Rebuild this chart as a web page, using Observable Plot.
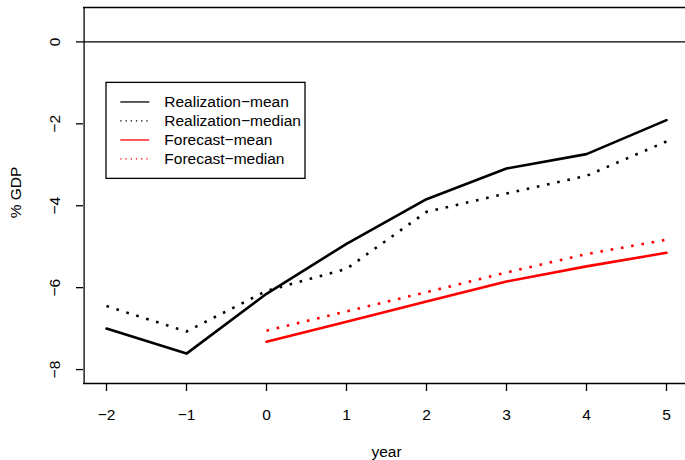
<!DOCTYPE html>
<html>
<head>
<meta charset="utf-8">
<script src="https://cdn.jsdelivr.net/npm/d3@7"></script>
<script src="https://cdn.jsdelivr.net/npm/@observablehq/plot@0.6"></script>
<style>
  html, body { margin: 0; padding: 0; background: white; overflow: hidden; }
  #chart { width: 685px; height: 460px; }
</style>
</head>
<body>
<div id="chart"></div>
<script>
// ---- data ----
const years = [-2, -1, 0, 1, 2, 3, 4, 5];
const realizationMean   = [-7.00, -7.61, -6.15, -4.93, -3.84, -3.09, -2.74, -1.91];
const realizationMedian = [-6.45, -7.07, -6.08, -5.54, -4.15, -3.70, -3.27, -2.43];
const forecastYears = [0, 1, 2, 3, 4, 5];
const forecastMean   = [-7.32, -6.83, -6.34, -5.85, -5.48, -5.15];
const forecastMedian = [-7.05, -6.58, -6.11, -5.63, -5.18, -4.83];
const xTicks = [-2, -1, 0, 1, 2, 3, 4, 5];
const yTicks = [0, -2, -4, -6, -8];
const legendLabels = ["Realization\u2212mean", "Realization\u2212median", "Forecast\u2212mean", "Forecast\u2212median"];
const legendColors = ["black", "black", "red", "red"];
const legendDotted = [false, true, false, true];
const xLabel = "year";
const yLabel = "% GDP";

// ---- layout ----
const xDomain = [-2.28, 5.28];
const yDomain = [-8.34, 0.84];
const font = "'Liberation Sans', Arial, Helvetica, sans-serif";
const fs = 15.5;
const lw = 1.3;
const fmt = d => (d < 0 ? "\u2212" + Math.abs(d) : String(d));
const toRows = (xs, ys) => xs.map((x, i) => ({x, y: ys[i]}));

const chart = Plot.plot({
  width: 685,
  height: 460,
  marginLeft: 83,
  marginRight: 0,
  marginTop: 7,
  marginBottom: 77,
  style: {fontFamily: font, fontSize: fs + "px", background: "white", color: "black", overflow: "hidden"},
  x: {domain: xDomain, range: [83.6, 688.4]},
  y: {domain: yDomain},
  marks: [
    Plot.ruleY([0], {stroke: "black", strokeWidth: lw}),
    Plot.line(toRows(years, realizationMean), {x: "x", y: "y", stroke: "black", strokeWidth: 2.6, strokeLinejoin: "round", strokeLinecap: "round"}),
    Plot.line(toRows(years, realizationMedian), {x: "x", y: "y", stroke: "black", strokeWidth: 2.6, strokeDasharray: "2.6,7.8", strokeLinecap: "butt"}),
    Plot.line(toRows(forecastYears, forecastMean), {x: "x", y: "y", stroke: "red", strokeWidth: 2.6, strokeLinejoin: "round", strokeLinecap: "round"}),
    Plot.line(toRows(forecastYears, forecastMedian), {x: "x", y: "y", stroke: "red", strokeWidth: 2.6, strokeDasharray: "2.6,7.8", strokeLinecap: "butt"}),
    // box
    Plot.ruleY(yDomain, {stroke: "black", strokeWidth: lw}),
    Plot.ruleX([xDomain[0]], {stroke: "black", strokeWidth: lw}),
    // axes (tick marks only; labels drawn below as text)
    Plot.axisX(xTicks, {anchor: "bottom", tickSize: 8, strokeWidth: lw, tickFormat: () => "", label: null}),
    Plot.axisY(yTicks, {anchor: "left", tickSize: 7, strokeWidth: lw, tickFormat: () => "", label: null}),
    Plot.text(xTicks, {x: d => d, frameAnchor: "bottom", dy: 32, lineAnchor: "middle", text: fmt, fill: "black"}),
    Plot.text(yTicks, {y: d => d, frameAnchor: "left", dx: -28, rotate: -90, textAnchor: "middle", lineAnchor: "middle", text: fmt, fill: "black"}),
    Plot.text([xLabel], {frameAnchor: "bottom", dx: 2, dy: 69, lineAnchor: "middle", text: d => d, fill: "black"}),
    Plot.text([yLabel], {frameAnchor: "left", dx: -67, dy: -3, rotate: -90, textAnchor: "middle", lineAnchor: "middle", text: d => d, fill: "black"})
  ]
});
document.getElementById("chart").appendChild(chart);

// ---- legend (anchored at data point (-2, -1), like R's legend(x, y)) ----
const sx = chart.scale("x"), sy = chart.scale("y");
const lx = sx.apply(-2), ly = sy.apply(-1);
const svg = d3.select(chart);
const g = svg.append("g")
  .attr("font-family", font).attr("font-size", fs)
  .attr("text-anchor", "start");
g.append("rect")
  .attr("x", lx).attr("y", ly)
  .attr("width", 199).attr("height", 96)
  .attr("fill", "white").attr("stroke", "black").attr("stroke-width", lw);
legendLabels.forEach((lab, i) => {
  const cy = ly + 19.6 + 19 * i;
  g.append("line")
    .attr("x1", lx + 14.3).attr("x2", lx + 43.3)
    .attr("y1", cy).attr("y2", cy)
    .attr("stroke", legendColors[i]).attr("stroke-width", lw)
    .attr("stroke-dasharray", legendDotted[i] ? "1.3,3.9" : null);
  g.append("text")
    .attr("x", lx + 58.3).attr("y", cy)
    .attr("dy", "0.35em")
    .attr("text-anchor", "start")
    .attr("fill", "black")
    .text(lab);
});
</script>
</body>
</html>
